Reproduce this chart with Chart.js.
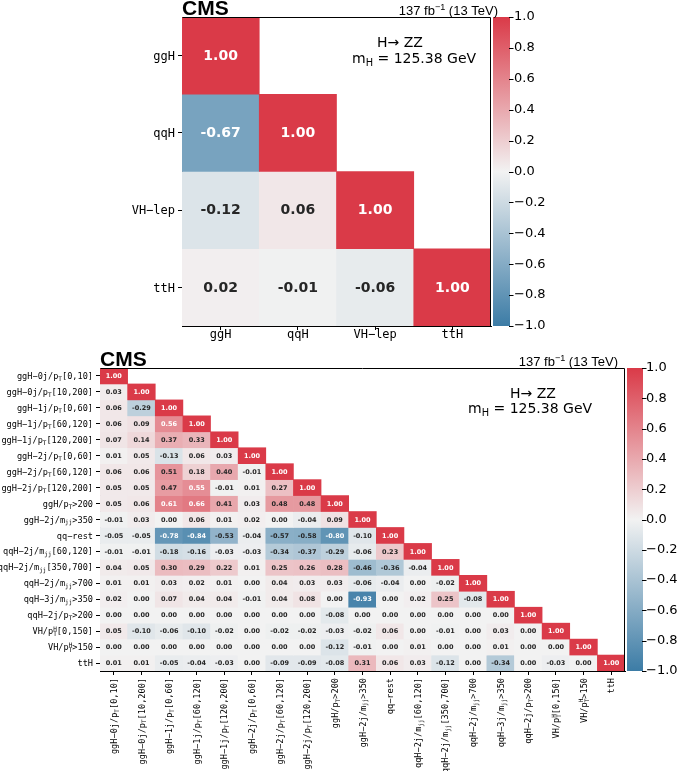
<!DOCTYPE html>
<html>
<head>
<meta charset="utf-8">
<script src="https://cdn.jsdelivr.net/npm/chart.js@4.4.0/dist/chart.umd.min.js"></script>
<style>
html, body { margin: 0; padding: 0; background: #fff; }
#wrap { position: relative; width: 677px; height: 771px; }
canvas { position: absolute; left: 0; }
#topChart { top: 0; }
#bottomChart { top: 345px; }
</style>
</head>
<body>
<div id="wrap">
<canvas id="topChart" width="677" height="345"></canvas>
<canvas id="bottomChart" width="677" height="426"></canvas>
</div>
<script>
// 数据：上图 (4 个过程)
const topLabels = ['ggH', 'qqH', 'VH−lep', 'ttH'];
const topValues = [
    [1.00],
    [-0.67, 1.00],
    [-0.12, 0.06, 1.00],
    [0.02, -0.01, -0.06, 1.00]
];

// 数据：下图 (19 个 bin)
const bottomLabels = [
    'ggH−0j/p_{T}[0,10]',
    'ggH−0j/p_{T}[10,200]',
    'ggH−1j/p_{T}[0,60]',
    'ggH−1j/p_{T}[60,120]',
    'ggH−1j/p_{T}[120,200]',
    'ggH−2j/p_{T}[0,60]',
    'ggH−2j/p_{T}[60,120]',
    'ggH−2j/p_{T}[120,200]',
    'ggH/p_{T}>200',
    'ggH−2j/m_{jj}>350',
    'qq−rest',
    'qqH−2j/m_{jj}[60,120]',
    'qqH−2j/m_{jj}[350,700]',
    'qqH−2j/m_{jj}>700',
    'qqH−3j/m_{jj}>350',
    'qqH−2j/p_{T}>200',
    'VH/p^{H}_{T}[0,150]',
    'VH/p^{H}_{T}>150',
    'ttH'
];
const bottomValues = [
    [1.00],
    [0.03, 1.00],
    [0.06, -0.29, 1.00],
    [0.06, 0.09, 0.56, 1.00],
    [0.07, 0.14, 0.37, 0.33, 1.00],
    [0.01, 0.05, -0.13, 0.06, 0.03, 1.00],
    [0.06, 0.06, 0.51, 0.18, 0.40, -0.01, 1.00],
    [0.05, 0.05, 0.47, 0.55, -0.01, 0.01, 0.27, 1.00],
    [0.05, 0.06, 0.61, 0.66, 0.41, 0.03, 0.48, 0.48, 1.00],
    [-0.01, 0.03, 0.00, 0.06, 0.01, 0.02, 0.00, -0.04, 0.09, 1.00],
    [-0.05, -0.05, -0.78, -0.84, -0.53, -0.04, -0.57, -0.58, -0.80, -0.10, 1.00],
    [-0.01, -0.01, -0.18, -0.16, -0.03, -0.03, -0.34, -0.37, -0.29, -0.06, 0.23, 1.00],
    [0.04, 0.05, 0.30, 0.29, 0.22, 0.01, 0.25, 0.26, 0.28, -0.46, -0.36, -0.04, 1.00],
    [0.01, 0.01, 0.03, 0.02, 0.01, 0.00, 0.04, 0.03, 0.03, -0.06, -0.04, 0.00, -0.02, 1.00],
    [0.02, 0.00, 0.07, 0.04, 0.04, -0.01, 0.04, 0.08, 0.00, -0.93, 0.00, 0.02, 0.25, -0.08, 1.00],
    [0.00, 0.00, 0.00, 0.00, 0.00, 0.00, 0.00, 0.00, -0.08, 0.00, 0.00, 0.00, 0.00, 0.00, 0.00, 1.00],
    [0.05, -0.10, -0.06, -0.10, -0.02, 0.00, -0.02, -0.02, -0.03, -0.02, 0.06, 0.00, -0.01, 0.00, 0.03, 0.00, 1.00],
    [0.00, 0.00, 0.00, 0.00, 0.00, 0.00, 0.00, 0.00, -0.12, -0.01, 0.00, 0.01, 0.00, 0.00, 0.01, 0.00, 0.00, 1.00],
    [0.01, 0.01, -0.05, -0.04, -0.03, 0.00, -0.09, -0.09, -0.08, 0.31, 0.06, 0.03, -0.12, 0.00, -0.34, 0.00, -0.03, 0.00, 1.00]
];

// 色标刻度
const colorbarTicks = [-1.0, -0.8, -0.6, -0.4, -0.2, 0.0, 0.2, 0.4, 0.6, 0.8, 1.0];

const BLUE = [60, 124, 166];
const MID = [242, 242, 242];
const RED = [218, 58, 72];
const MONO = '"DejaVu Sans Mono", monospace';
const SANS = '"DejaVu Sans", sans-serif';
const HELV = '"Liberation Sans", Arial, sans-serif';

// 相关系数 -> 颜色
function corrColor(v) {
    const end = v >= 0 ? RED : BLUE;
    const t = Math.min(1, Math.abs(v));
    const c = MID.map((m, k) => Math.round(m + (end[k] - m) * t));
    return `rgb(${c.join(',')})`;
}

function fontStr(size, family, weight) {
    return `${weight || 'normal'} ${size}px ${family}`;
}

// 简单的上下标解析: _{..} ^{..} ^{..}_{..}
function parseRich(s) {
    const segs = [];
    const re = /\^\{([^}]*)\}_\{([^}]*)\}|_\{([^}]*)\}|\^\{([^}]*)\}|([^_^]+)/g;
    let m;
    while ((m = re.exec(s)) !== null) {
        if (m[1] !== undefined) segs.push({ sup: m[1], sub: m[2] });
        else if (m[3] !== undefined) segs.push({ sub: m[3] });
        else if (m[4] !== undefined) segs.push({ sup: m[4] });
        else segs.push({ text: m[5] });
    }
    return segs;
}

function richWidth(ctx, s, size, family, weight) {
    let w = 0;
    parseRich(s).forEach(seg => {
        if (seg.text !== undefined) {
            ctx.font = fontStr(size, family, weight);
            w += ctx.measureText(seg.text).width;
        } else {
            ctx.font = fontStr(size * 0.7, family, weight);
            const a = seg.sup ? ctx.measureText(seg.sup).width : 0;
            const b = seg.sub ? ctx.measureText(seg.sub).width : 0;
            w += Math.max(a, b);
        }
    });
    return w;
}

function drawRich(ctx, s, x, y, size, family, weight) {
    ctx.textAlign = 'left';
    ctx.textBaseline = 'alphabetic';
    parseRich(s).forEach(seg => {
        if (seg.text !== undefined) {
            ctx.font = fontStr(size, family, weight);
            ctx.fillText(seg.text, x, y);
            x += ctx.measureText(seg.text).width;
        } else {
            ctx.font = fontStr(size * 0.7, family, weight);
            let w = 0;
            if (seg.sup) {
                ctx.fillText(seg.sup, x, y - size * 0.4);
                w = ctx.measureText(seg.sup).width;
            }
            if (seg.sub) {
                ctx.fillText(seg.sub, x, y + size * 0.22);
                w = Math.max(w, ctx.measureText(seg.sub).width);
            }
            x += w;
        }
    });
    return x;
}

// 相关矩阵图
class CorrelationMatrix {
    constructor(canvasId, labels, values, opts) {
        this.canvas = document.getElementById(canvasId);
        this.labels = labels;
        this.values = values;
        this.opts = opts;
        this.initChart();
    }

    initChart() {
        const labels = this.labels;
        const values = this.values;
        const o = this.opts;
        const W = this.canvas.width;
        const H = this.canvas.height;
        const n = labels.length;

        const datasets = values.map((row, i) => ({
            label: labels[i],
            data: labels.map((_, j) => j < row.length ? [i, i + 1] : null),
            backgroundColor: labels.map((_, j) => j < row.length ? corrColor(row[j]) : 'rgba(0,0,0,0)'),
            borderWidth: 0,
            grouped: false,
            barPercentage: 1,
            categoryPercentage: 1,
            yAxisID: 'y'
        }));

        const axisGrid = {
            display: true,
            drawOnChartArea: false,
            drawTicks: true,
            tickLength: 4,
            offset: false,
            color: '#000'
        };

        const self = this;
        const overlay = {
            id: 'overlay',
            afterDraw(chart) {
                self.drawOverlay(chart);
            }
        };

        this.chart = new Chart(this.canvas.getContext('2d'), {
            type: 'bar',
            data: { labels: labels, datasets: datasets },
            options: {
                responsive: false,
                animation: false,
                devicePixelRatio: 1,
                layout: { padding: { top: o.area.top, left: 0, right: 0, bottom: 0 } },
                plugins: {
                    legend: { display: false },
                    tooltip: { enabled: false }
                },
                scales: {
                    x: {
                        type: 'category',
                        offset: true,
                        grid: axisGrid,
                        border: { display: true, color: '#000', width: 1 },
                        ticks: { display: false },
                        afterFit: s => { s.height = H - o.area.bottom; }
                    },
                    y: {
                        type: 'linear',
                        min: 0,
                        max: n,
                        reverse: true,
                        grid: axisGrid,
                        border: { display: true, color: '#000', width: 1 },
                        ticks: { display: false },
                        afterBuildTicks: s => { s.ticks = labels.map((_, i) => ({ value: i + 0.5 })); },
                        afterFit: s => { s.width = o.area.left; }
                    },
                    cb: {
                        type: 'linear',
                        position: 'right',
                        min: -1,
                        max: 1,
                        // 用不可见的刻度长度把标签推到色标右侧
                        grid: { display: false, drawTicks: true, tickLength: o.cbLabelPad },
                        border: { display: false },
                        ticks: {
                            color: '#000',
                            padding: 0,
                            font: { family: SANS, size: 13 },
                            callback: v => (Math.abs(v) < 1e-9 ? '0.0' : v.toFixed(1)).replace('-', '−')
                        },
                        afterBuildTicks: s => { s.ticks = colorbarTicks.map(v => ({ value: v })); },
                        afterFit: s => { s.width = W - o.area.right; }
                    }
                }
            },
            plugins: [overlay]
        });
    }

    drawOverlay(chart) {
        const ctx = chart.ctx;
        const o = this.opts;
        const a = chart.chartArea;
        const xs = chart.scales.x;
        const ys = chart.scales.y;
        const cs = chart.scales.cb;

        ctx.save();

        // 边框
        ctx.strokeStyle = '#000';
        ctx.lineWidth = 1;
        ctx.beginPath();
        ctx.moveTo(Math.round(a.left) + 0.5, Math.round(a.top) + 0.5);
        ctx.lineTo(Math.round(a.right) - 0.5, Math.round(a.top) + 0.5);
        ctx.lineTo(Math.round(a.right) - 0.5, Math.round(a.bottom));
        ctx.stroke();

        // 色标
        const cbX = a.right + 2;
        const cbW = o.cbWidth;
        const grad = ctx.createLinearGradient(0, a.bottom, 0, a.top);
        grad.addColorStop(0, `rgb(${BLUE.join(',')})`);
        grad.addColorStop(0.5, `rgb(${MID.join(',')})`);
        grad.addColorStop(1, `rgb(${RED.join(',')})`);
        ctx.fillStyle = grad;
        ctx.fillRect(cbX, a.top, cbW, a.bottom - a.top);
        ctx.strokeStyle = '#000';
        ctx.beginPath();
        cs.ticks.forEach(t => {
            const y = Math.round(cs.getPixelForValue(t.value)) + 0.5;
            ctx.moveTo(cbX + cbW - 1, y);
            ctx.lineTo(cbX + cbW + 3.5, y);
        });
        ctx.stroke();

        // 数值
        ctx.textAlign = 'center';
        ctx.textBaseline = 'middle';
        ctx.font = fontStr(o.valueSize, SANS, 'bold');
        this.values.forEach((row, i) => {
            const meta = chart.getDatasetMeta(i);
            row.forEach((v, j) => {
                const el = meta.data[j];
                const cy = (el.y + el.base) / 2;
                ctx.fillStyle = (v >= 0.53 || v <= -0.6) ? '#fff' : '#262626';
                ctx.fillText(v.toFixed(2), el.x, cy + 0.5);
            });
        });

        // 轴标签
        ctx.fillStyle = '#000';
        const ls = o.labelSize;
        this.labels.forEach((lab, i) => {
            const y = ys.getPixelForValue(i + 0.5);
            const w = richWidth(ctx, lab, ls, MONO);
            drawRich(ctx, lab, a.left - 7 - w, y + ls * 0.36, ls, MONO);
        });
        this.labels.forEach((lab, j) => {
            const x = xs.getPixelForValue(j);
            const w = richWidth(ctx, lab, ls, MONO);
            if (o.rotateX) {
                ctx.save();
                ctx.translate(x, a.bottom + 7);
                ctx.rotate(-Math.PI / 2);
                drawRich(ctx, lab, -w, ls * 0.36, ls, MONO);
                ctx.restore();
            } else {
                drawRich(ctx, lab, x - w / 2, a.bottom + 11.5, ls, MONO);
            }
        });

        // 标题文字
        ctx.fillStyle = '#000';
        ctx.font = fontStr(21, HELV, 'bold');
        ctx.textAlign = 'left';
        ctx.textBaseline = 'alphabetic';
        ctx.fillText('CMS', a.left, a.top - 2);

        const lumi = '137 fb^{−1} (13 TeV)';
        const lw = richWidth(ctx, lumi, 13, HELV);
        drawRich(ctx, lumi, a.right + o.lumiDx - lw, a.top - 2, 13, HELV);

        drawRich(ctx, 'H→ ZZ', a.left + o.hzz[0], a.top + o.hzz[1], 14, SANS);
        drawRich(ctx, 'm_{H} = 125.38 GeV', a.left + o.mh[0], a.top + o.mh[1], 14, SANS);

        ctx.restore();
    }
}

const topMatrix = new CorrelationMatrix('topChart', topLabels, topValues, {
    area: { left: 182, right: 491, top: 17, bottom: 326 },
    labelSize: 12,
    valueSize: 14,
    rotateX: false,
    cbWidth: 17,
    cbLabelPad: 23,
    lumiDx: 7,
    hzz: [195, 30],
    mh: [170, 46]
});

const bottomMatrix = new CorrelationMatrix('bottomChart', bottomLabels, bottomValues, {
    area: { left: 100, right: 625, top: 23, bottom: 326 },
    labelSize: 8.6,
    valueSize: 6.5,
    rotateX: true,
    cbWidth: 16,
    cbLabelPad: 21,
    lumiDx: -7,
    hzz: [410, 30],
    mh: [368, 45]
});
</script>
</body>
</html>
